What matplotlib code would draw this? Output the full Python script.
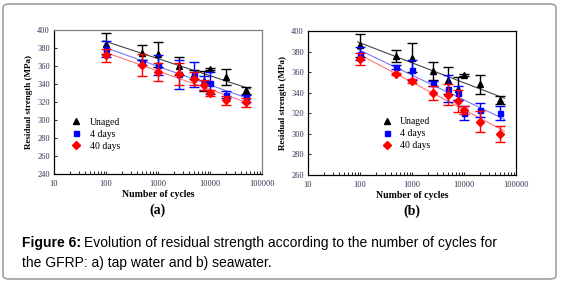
import numpy as np
import matplotlib
matplotlib.use("Agg")
import matplotlib.pyplot as plt
from matplotlib.patches import FancyBboxPatch

# ---- data ----
cycles = [100, 500, 1000, 2500, 5000, 7500, 10000, 20000, 50000]
series_names = ["Unaged", "4 days", "40 days"]

# panel (a) tap water
a_unaged = [385, 375, 373, 360, 351, 343, 357, 348, 333]
a_unaged_err = [12, 8, 14, 10, 5, 11, 1, 9, 4]
a_4days = [379, 364, 361, 351, 351, 341, 341, 328, 324]
a_4days_err = [9, 3, 11, 16, 14, 8, 12, 4, 4]
a_40days = [372, 361, 353, 351, 346, 339, 330, 322, 320]
a_40days_err = [7, 12, 10, 12, 7, 6, 3, 5, 5]

# panel (b) seawater
b_unaged = [386, 376, 374, 361, 352, 344, 357, 348, 333]
b_unaged_err = [11, 6, 14, 9, 13, 11, 1, 9, 4]
b_4days = [378, 365, 362, 349, 344, 340, 320, 323, 320]
b_4days_err = [6, 2, 10, 2, 13, 7, 7, 7, 7]
b_40days = [373, 358, 351, 340, 338, 332, 323, 312, 300]
b_40days_err = [6, 1, 2, 7, 10, 11, 4, 10, 8]

xticks = [10, 100, 1000, 10000, 100000]
a_yticks = [240, 260, 280, 300, 320, 340, 360, 380, 400]
b_yticks = [260, 280, 300, 320, 340, 360, 380, 400]

# ---- style ----
colors = ["black", "#0000ff", "#ff0000"]
line_colors = ["#444444", "#7777ff", "#ff7777"]
markers = ["^", "s", "D"]
msizes = [3.8, 3.6, 3.6]
serif = "Liberation Serif"

fig = plt.figure(figsize=(5.62, 2.83), dpi=100)
W, H = 562, 283

border = FancyBboxPatch((3 / W, 4 / H), 553 / W, 275 / H,
                        boxstyle="round,pad=0,rounding_size=0.012",
                        transform=fig.transFigure, fill=False,
                        edgecolor="#a0a0a0", linewidth=1.2)
fig.patches.append(border)


def panel(rect, data, yticks, ylim, frame_color, label, legend_xy):
    ax = fig.add_axes(rect)
    ax.set_xscale("log")
    ax.set_xlim(10, 100000)
    ax.set_ylim(*ylim)
    xs = np.array(cycles, dtype=float)
    xfit = np.array([90, 60000], dtype=float)
    for i, (vals, errs) in enumerate(data):
        vals = np.array(vals, dtype=float)
        k, b = np.polyfit(np.log10(xs), vals, 1)
        ax.plot(xfit, k * np.log10(xfit) + b, color=line_colors[i], lw=0.8, zorder=2)
    for i, (vals, errs) in enumerate(data):
        ax.errorbar(cycles, vals, yerr=errs, fmt=markers[i], color=colors[i],
                    ms=msizes[i], ecolor=colors[i], elinewidth=1.0, capsize=3.5,
                    capthick=1.0, zorder=3 + i)
    ax.set_xticks(xticks)
    ax.set_xticklabels([str(t) for t in xticks])
    ax.set_yticks(yticks)
    ax.tick_params(axis="both", which="both", direction="in", labelsize=6,
                   labelcolor="#333355", length=2.5, width=0.6)
    ax.tick_params(axis="x", which="minor", length=2)
    ax.tick_params(axis="x", pad=4)
    ax.tick_params(axis="y", pad=3)
    for lab in ax.get_xticklabels() + ax.get_yticklabels():
        lab.set_family(serif)
    for s in ["left", "bottom"]:
        ax.spines[s].set_color("black")
        ax.spines[s].set_linewidth(0.9)
    for s in ["top", "right"]:
        ax.spines[s].set_color(frame_color)
        ax.spines[s].set_linewidth(0.9)
    ax.set_xlabel("Number of cycles", family=serif, fontweight="bold", fontsize=7, labelpad=2)
    ax.set_ylabel("Residual strength (MPa)", family=serif, fontweight="bold", fontsize=6.5, labelpad=3)
    ax.legend(handles=[plt.Line2D([], [], marker=markers[i], color=colors[i], ls="none", ms=msizes[i])
                       for i in range(3)],
              labels=series_names, loc="upper left", bbox_to_anchor=legend_xy,
              frameon=False, prop={"family": serif, "size": 7},
              handletextpad=0.8, labelspacing=0.3, handlelength=1.2,
              borderaxespad=0, borderpad=0)
    ax.text(0.5, -0.205, label, transform=ax.transAxes, ha="center", va="top",
            family=serif, fontweight="bold", fontsize=10)
    return ax


ax_a = panel([54 / W, 1 - 174 / H, 208 / W, 144 / H],
             [(a_unaged, a_unaged_err), (a_4days, a_4days_err), (a_40days, a_40days_err)],
             a_yticks, (240, 400), "#808080", "(a)", (0.08, 0.39))
ax_b = panel([308 / W, 1 - 175 / H, 208 / W, 144 / H],
             [(b_unaged, b_unaged_err), (b_4days, b_4days_err), (b_40days, b_40days_err)],
             b_yticks, (260, 400), "black", "(b)", (0.35, 0.40))

# caption
cap_fs = 10
t1 = fig.text(22 / W, 1 - 243 / H, "Figure 6:", family="Liberation Sans", fontweight="bold",
              fontsize=cap_fs, va="center", ha="left")
fig.canvas.draw()
bb = t1.get_window_extent(renderer=fig.canvas.get_renderer())
fig.text(bb.x1 / W + 3 / W, 1 - 243 / H,
         "Evolution of residual strength according to the number of cycles for",
         family="Liberation Sans", fontsize=cap_fs, va="center", ha="left")
fig.text(22 / W, 1 - 263 / H, "the GFRP: a) tap water and b) seawater.",
         family="Liberation Sans", fontsize=cap_fs, va="center", ha="left")

fig.savefig("out.png", dpi=100)
